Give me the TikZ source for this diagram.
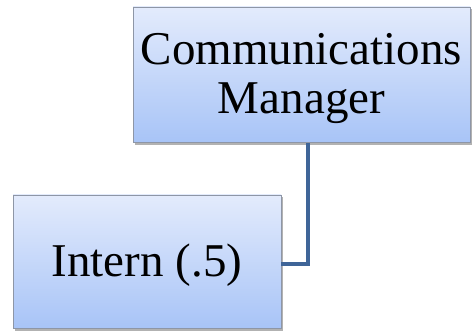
\documentclass[tikz,border=0pt]{standalone}
\usepackage{fontspec}
\setmainfont{Liberation Serif}
\definecolor{boxtop}{HTML}{E3EBFC}
\definecolor{boxbot}{HTML}{A8C4F7}
\definecolor{boxedge}{HTML}{8E96A6}
\definecolor{linkblue}{HTML}{3F6598}
\tikzset{
  orgbox/.style={draw=boxedge, line width=0.8pt, top color=boxtop, bottom color=boxbot,
    inner sep=0pt},
  boxtext/.style={inner sep=0pt, align=center, font=\fontsize{47}{49}\selectfont},
  boxshadow/.style={fill=black!55, opacity=0.55},
  link/.style={draw=linkblue, line width=4.5pt}
}
\begin{document}
\begin{tikzpicture}[x=1pt,y=-1pt]
  \useasboundingbox (0,0) rectangle (472,331);
  % soft shadows under both boxes
  \fill[boxshadow] (135,9) rectangle (472,145);
  \fill[boxshadow] (15,197) rectangle (283,331);
  % boxes
  \node[orgbox, minimum width=337pt, minimum height=135pt] (cm) at (301.5,74.5) {};
  \node[boxtext] (cmtext) at ([yshift=-4pt]cm.center) {Communications\\Manager};
  \node[orgbox, minimum width=268pt, minimum height=133pt] (intern) at (147,261.5) {};
  \node[boxtext] (interntext) at ([yshift=-4pt]intern.center) {Intern (.5)};
  % connector
  \coordinate (drop) at (308,143);
  \coordinate (bend) at (308,264);
  \draw[link] (drop) -- (bend) -- (intern.east |- bend);
\end{tikzpicture}
\end{document}
